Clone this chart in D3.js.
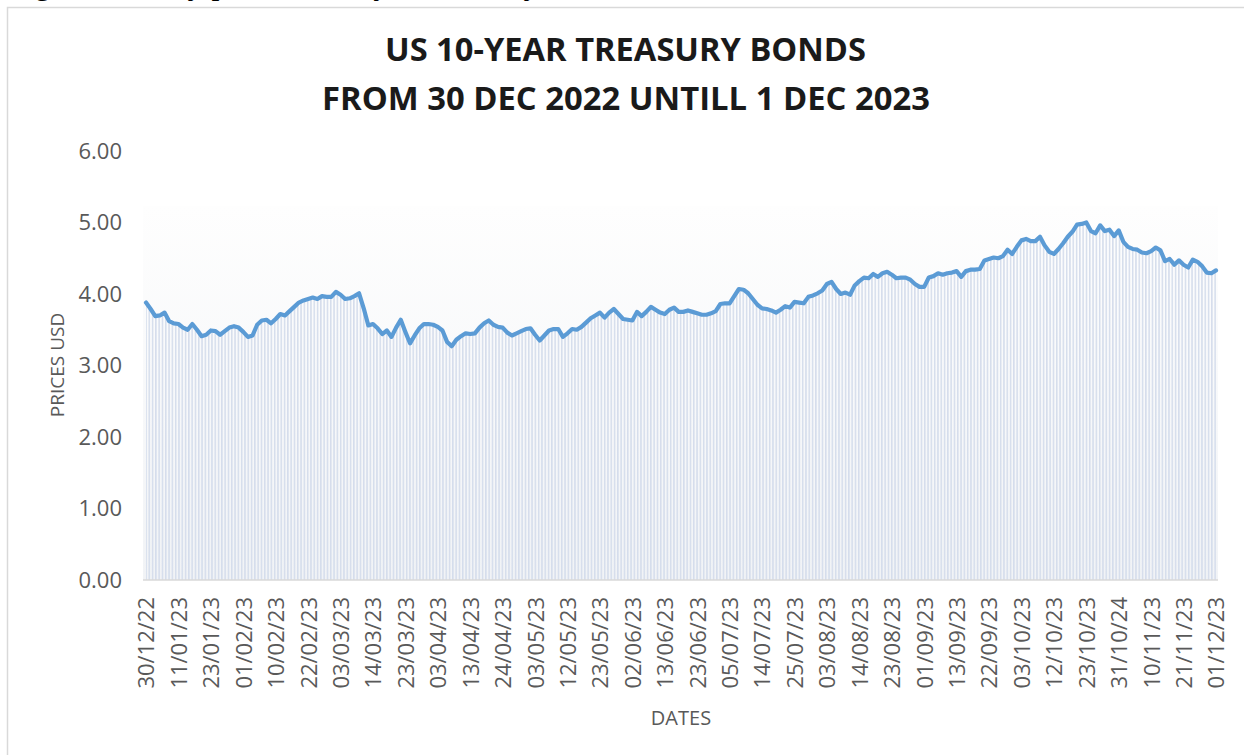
<!DOCTYPE html>
<html>
<head>
<meta charset="utf-8">
<script src="https://cdn.jsdelivr.net/npm/d3@7"></script>
<style>
  body { margin: 0; background: #fff; }
  svg { display: block; }
</style>
</head>
<body>
<script>
const width = 1244;
const height = 755;

// category labels shown on the axis (one every 7 trading days)
const tickLabels = [
  '30/12/22', '11/01/23', '23/01/23', '01/02/23', '10/02/23', '22/02/23',
  '03/03/23', '14/03/23', '23/03/23', '03/04/23', '13/04/23', '24/04/23',
  '03/05/23', '12/05/23', '23/05/23', '02/06/23', '13/06/23', '23/06/23',
  '05/07/23', '14/07/23', '25/07/23', '03/08/23', '14/08/23', '23/08/23',
  '01/09/23', '13/09/23', '22/09/23', '03/10/23', '12/10/23', '23/10/23',
  '31/10/24', '10/11/23', '21/11/23', '01/12/23'
];
const tickStep = 7;

// daily prices
const prices = [
  3.88, 3.79, 3.69, 3.70, 3.74, 3.62, 3.59, 3.58, 3.53, 3.50,
  3.58, 3.50, 3.41, 3.43, 3.49, 3.48, 3.43, 3.48, 3.53, 3.55,
  3.53, 3.47, 3.40, 3.42, 3.57, 3.63, 3.64, 3.59, 3.65, 3.72,
  3.70, 3.76, 3.82, 3.88, 3.91, 3.93, 3.95, 3.93, 3.97, 3.96,
  3.96, 4.03, 3.99, 3.93, 3.94, 3.97, 4.01, 3.80, 3.56, 3.58,
  3.52, 3.44, 3.49, 3.40, 3.53, 3.64, 3.47, 3.31, 3.42, 3.52,
  3.58, 3.58, 3.57, 3.54, 3.49, 3.33, 3.27, 3.36, 3.41, 3.45,
  3.44, 3.45, 3.53, 3.59, 3.63, 3.57, 3.54, 3.53, 3.46, 3.42,
  3.45, 3.48, 3.51, 3.52, 3.43, 3.35, 3.42, 3.49, 3.51, 3.51,
  3.40, 3.45, 3.51, 3.50, 3.54, 3.60, 3.66, 3.70, 3.74, 3.67,
  3.74, 3.79, 3.72, 3.65, 3.64, 3.63, 3.75, 3.69, 3.75, 3.82,
  3.78, 3.74, 3.72, 3.78, 3.81, 3.75, 3.75, 3.77, 3.75, 3.73,
  3.71, 3.71, 3.73, 3.76, 3.86, 3.87, 3.87, 3.97, 4.07, 4.06,
  4.01, 3.93, 3.85, 3.80, 3.79, 3.77, 3.74, 3.78, 3.83, 3.81,
  3.89, 3.88, 3.87, 3.96, 3.98, 4.01, 4.05, 4.14, 4.17, 4.07,
  4.00, 4.02, 3.99, 4.12, 4.18, 4.23, 4.22, 4.28, 4.24, 4.29,
  4.31, 4.27, 4.22, 4.23, 4.23, 4.20, 4.14, 4.10, 4.10, 4.23,
  4.25, 4.29, 4.27, 4.29, 4.30, 4.32, 4.24, 4.32, 4.34, 4.34,
  4.35, 4.47, 4.49, 4.51, 4.50, 4.53, 4.62, 4.56, 4.66, 4.75,
  4.77, 4.74, 4.74, 4.80, 4.68, 4.59, 4.56, 4.63, 4.71, 4.80,
  4.87, 4.97, 4.98, 5.00, 4.88, 4.85, 4.96, 4.88, 4.90, 4.81,
  4.89, 4.73, 4.66, 4.63, 4.62, 4.58, 4.57, 4.60, 4.65, 4.61,
  4.46, 4.49, 4.41, 4.47, 4.41, 4.37, 4.48, 4.45, 4.39, 4.30,
  4.29, 4.33
];
const yTicks = [0, 1, 2, 3, 4, 5, 6];

const plotLeft = 143;
const plotRight = 1218;
const plotBottom = 580;

const svg = d3
    .select('body')
    .append('svg')
    .attr('width', width)
    .attr('height', height);

const defs = svg.append('defs');

const grad = defs.append('linearGradient')
    .attr('id', 'bgFade')
    .attr('x1', 0).attr('y1', 0)
    .attr('x2', 0).attr('y2', 1);
grad.append('stop').attr('offset', '0%').attr('stop-color', '#fefefe');
grad.append('stop').attr('offset', '100%').attr('stop-color', '#f1f3f6');

const stripes = defs.append('pattern')
    .attr('id', 'stripes')
    .attr('patternUnits', 'userSpaceOnUse')
    .attr('width', 3.3)
    .attr('height', 10);
stripes.append('rect')
    .attr('x', 0).attr('y', 0)
    .attr('width', 1.5).attr('height', 10)
    .attr('fill', '#d5ddec');

// caption of the document, mostly cut off at the top
svg.append('text')
    .attr('x', 8)
    .attr('y', -6)
    .attr('font-family', '"Liberation Serif", "Times New Roman", serif')
    .attr('font-size', 32)
    .attr('fill', '#000')
    .text('Figure 1: Daily prices of 10-year treasury bonds in the US.');

// chart border
svg.append('path')
    .attr('d', `M7.5,${height} V7.5 H${width}`)
    .attr('fill', 'none')
    .attr('stroke', '#d9d9d9')
    .attr('stroke-width', 1.5);

const x = d3.scalePoint()
    .domain(d3.range(prices.length))
    .range([146, 1216]);

const y = d3.scaleLinear()
    .domain([0, 6])
    .range([plotBottom, 151]);

// title
const title = svg.append('g')
    .attr('font-family', '"Open Sans", sans-serif')
    .attr('font-weight', 'bold')
    .attr('font-size', 32)
    .attr('fill', '#1a1a1a')
    .attr('text-anchor', 'middle');
title.append('text')
    .attr('x', 625.5).attr('y', 61)
    .attr('textLength', 481).attr('lengthAdjust', 'spacingAndGlyphs')
    .text('US 10-YEAR TREASURY BONDS');
title.append('text')
    .attr('x', 626).attr('y', 110)
    .attr('textLength', 608).attr('lengthAdjust', 'spacingAndGlyphs')
    .text('FROM 30 DEC 2022 UNTILL 1 DEC 2023');

// faint backdrop behind the series
svg.append('rect')
    .attr('x', plotLeft)
    .attr('y', 206)
    .attr('width', plotRight - plotLeft)
    .attr('height', plotBottom - 206)
    .attr('fill', 'url(#bgFade)');

const area = d3.area()
    .x((d, i) => x(i))
    .y0(plotBottom)
    .y1((d) => y(d));

svg.append('path')
    .datum(prices)
    .attr('d', area)
    .attr('fill', 'url(#stripes)');

svg.append('line')
    .attr('x1', plotLeft).attr('x2', plotRight)
    .attr('y1', plotBottom).attr('y2', plotBottom)
    .attr('stroke', '#d9d9d9')
    .attr('stroke-width', 1.5);

const line = d3.line()
    .x((d, i) => x(i))
    .y((d) => y(d));

svg.append('path')
    .datum(prices)
    .attr('d', line)
    .attr('fill', 'none')
    .attr('stroke', '#5b9bd5')
    .attr('stroke-width', 4.2)
    .attr('stroke-linejoin', 'round')
    .attr('stroke-linecap', 'round');

// y axis
const yAxis = svg.append('g')
    .attr('transform', `translate(${plotLeft},0)`)
    .call(d3.axisLeft(y)
        .tickValues(yTicks)
        .tickSize(0)
        .tickPadding(21)
        .tickFormat(d3.format('.2f')));
yAxis.select('.domain').remove();
yAxis.selectAll('text')
    .attr('font-family', '"Open Sans", sans-serif')
    .attr('font-size', 22)
    .attr('fill', '#595959');

// x axis
const xAxis = svg.append('g')
    .attr('transform', `translate(0,${plotBottom})`)
    .call(d3.axisBottom(x)
        .tickValues(d3.range(0, prices.length, tickStep))
        .tickSize(0)
        .tickFormat((i) => tickLabels[i / tickStep]));
xAxis.select('.domain').remove();
xAxis.selectAll('text')
    .attr('font-family', '"Open Sans", sans-serif')
    .attr('font-size', 22)
    .attr('fill', '#595959')
    .attr('transform', 'rotate(-90)')
    .attr('x', -17)
    .attr('y', 0)
    .attr('dy', '0.36em')
    .style('text-anchor', 'end');

// axis titles
svg.append('text')
    .attr('transform', 'translate(64,365) rotate(-90)')
    .attr('text-anchor', 'middle')
    .attr('font-family', '"Open Sans", sans-serif')
    .attr('font-size', 19)
    .attr('fill', '#595959')
    .text('PRICES USD');

svg.append('text')
    .attr('x', 681)
    .attr('y', 725)
    .attr('text-anchor', 'middle')
    .attr('font-family', '"Open Sans", sans-serif')
    .attr('font-size', 20)
    .attr('fill', '#595959')
    .text('DATES');
</script>
</body>
</html>
